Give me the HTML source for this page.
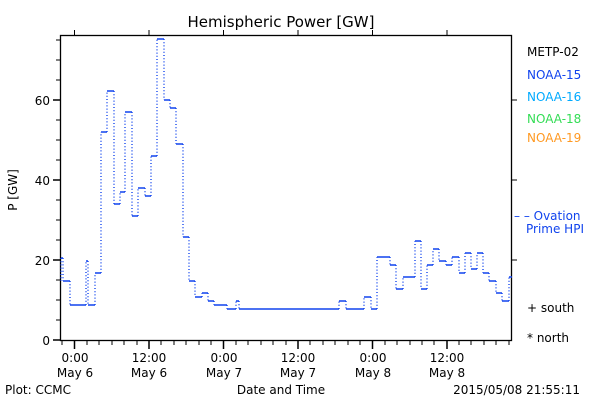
<!DOCTYPE html>
<html><head><style>
body{margin:0;background:#fff;}
svg{display:block;}
text{font-family:"DejaVu Sans","Liberation Sans",sans-serif;font-size:12px;fill:#000;}
</style></head><body>
<svg width="600" height="400" xmlns="http://www.w3.org/2000/svg">
<rect x="60.5" y="35.5" width="451" height="305" fill="none" stroke="#000" stroke-width="1.3"/>
<g stroke="#000" stroke-width="1">
<!-- bottom ticks -->
<path d="M62 341V345M87 341V345M99 341V345M112 341V345M124 341V345M137 341V345M161 341V345M174 341V345M186 341V345M199 341V345M211 341V345M236 341V345M248 341V345M261 341V345M273 341V345M286 341V345M310 341V345M323 341V345M335 341V345M348 341V345M360 341V345M385 341V345M397 341V345M410 341V345M422 341V345M434 341V345M459 341V345M471 341V345M484 341V345M496 341V345M509 341V345"/>
<path d="M74.5 341V349M149 341V349M223.5 341V349M298 341V349M372.5 341V349M447 341V349" stroke-width="1.5"/>
<path d="M74.5 35V30M149 35V30M223.5 35V30M298 35V30M372.5 35V30M447 35V30"/>
<!-- left ticks -->
<path d="M60 320H56M60 300H56M60 280H56M60 240H56M60 220H56M60 200H56M60 160H56M60 140H56M60 120H56M60 80H56M60 60H56M60 40H56"/>
<path d="M60 340H53M60 260H53M60 180H53M60 100H53" stroke-width="1.5"/>
<path d="M512 260H517M512 180H517M512 100H517"/>
</g>
<path fill="none" stroke="#1144ee" stroke-width="1.4" stroke-dasharray="1,2.2" d="M61 258V281M63 258V281M70 281V305M86 305V261M88 261V305M95 305V273M101 273V132M107 132V91M114 91V204M120 204V192M125 192V112M132 112V216M138 216V188M145 188V196M151 196V156M157 156V39M164 39V100M170 100V108M176 108V144M183 144V237M189 237V281M195 281V297M202 297V293M208 293V301M214 301V305M227 305V309M236 309V301M239 301V309M339 309V301M346 301V309M364 309V297M371 297V309M377 309V257M390 257V265M396 265V289M403 289V277M415 277V241M421 241V289M427 289V265M433 265V249M439 249V261M446 261V265M452 265V257M459 257V273M465 273V253M471 253V269M477 269V253M483 253V273M489 273V281M496 281V293M502 293V301M509 301V277"/>
<path fill="none" stroke="#1144ee" stroke-width="1.5" d="M61 258H63M63 281H70M70 305H86M86 261H88M88 305H95M95 273H101M101 132H107M107 91H114M114 204H120M120 192H125M125 112H132M132 216H138M138 188H145M145 196H151M151 156H157M157 39H164M164 100H170M170 108H176M176 144H183M183 237H189M189 281H195M195 297H202M202 293H208M208 301H214M214 305H227M227 309H236M236 301H239M239 309H339M339 301H346M346 309H364M364 297H371M371 309H377M377 257H390M390 265H396M396 289H403M403 277H415M415 241H421M421 289H427M427 265H433M433 249H439M439 261H446M446 265H452M452 257H459M459 273H465M465 253H471M471 269H477M477 253H483M483 273H489M489 281H496M496 293H502M502 301H509M509 277H512"/>
<text x="281" y="27" text-anchor="middle" style="font-size:15px">Hemispheric Power [GW]</text>
<g text-anchor="end">
<text x="50" y="345">0</text><text x="50" y="265">20</text><text x="50" y="185">40</text><text x="50" y="105">60</text>
</g>
<text transform="translate(17,190) rotate(-90)" text-anchor="middle">P [GW]</text>
<g text-anchor="middle">
<text x="75" y="362">0:00</text><text x="75" y="377">May 6</text>
<text x="149" y="362">12:00</text><text x="149" y="377">May 6</text>
<text x="224" y="362">0:00</text><text x="224" y="377">May 7</text>
<text x="298" y="362">12:00</text><text x="298" y="377">May 7</text>
<text x="373" y="362">0:00</text><text x="373" y="377">May 8</text>
<text x="447" y="362">12:00</text><text x="447" y="377">May 8</text>
<text x="281" y="394">Date and Time</text>
</g>
<text x="5" y="394">Plot: CCMC</text>
<text x="580" y="394" text-anchor="end">2015/05/08 21:55:11</text>
<text x="527" y="56">METP-02</text>
<text x="527" y="79" style="fill:#1144ee">NOAA-15</text>
<text x="527" y="101" style="fill:#00aaff">NOAA-16</text>
<text x="527" y="123" style="fill:#33dd55">NOAA-18</text>
<text x="527" y="142" style="fill:#ff9922">NOAA-19</text>
<text x="514" y="220" style="fill:#1144ee">– – Ovation</text>
<text x="526" y="233" style="fill:#1144ee">Prime HPI</text>
<text x="527" y="312">+ south</text>
<text x="527" y="342">* north</text>
</svg>
</body></html>
